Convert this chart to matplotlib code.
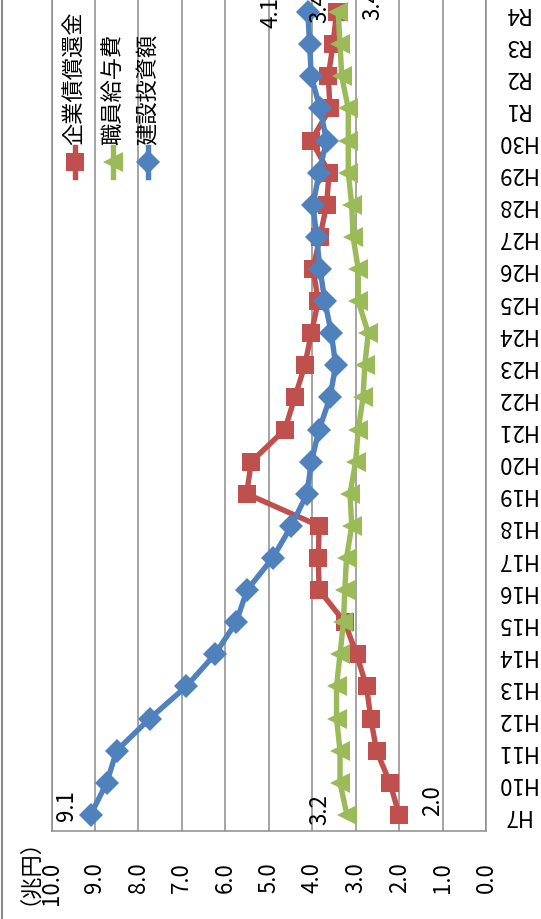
import numpy as np
import matplotlib
matplotlib.use("Agg")
import matplotlib.pyplot as plt
from matplotlib.lines import Line2D

plt.rcParams['font.family'] = ['Noto Sans CJK JP', 'DejaVu Sans']

# カテゴリ (年度)
cats = ['H7', 'H10', 'H11', 'H12', 'H13', 'H14', 'H15', 'H16', 'H17', 'H18',
        'H19', 'H20', 'H21', 'H22', 'H23', 'H24', 'H25', 'H26', 'H27', 'H28',
        'H29', 'H30', 'R1', 'R2', 'R3', 'R4']

# 企業債償還金
shokan = [2.0, 2.21, 2.52, 2.65, 2.75, 2.98, 3.25, 3.84, 3.86, 3.84,
          5.51, 5.40, 4.63, 4.40, 4.17, 4.02, 3.86, 3.98, 3.82, 3.67,
          3.61, 4.02, 3.59, 3.63, 3.52, 3.44]
# 職員給与費
kyuyo = [3.2, 3.36, 3.36, 3.44, 3.44, 3.36, 3.28, 3.25, 3.21, 3.09,
         3.13, 3.00, 2.94, 2.83, 2.79, 2.71, 2.94, 2.94, 3.06, 3.09,
         3.17, 3.17, 3.17, 3.32, 3.36, 3.40]
# 建設投資額
kensetsu = [9.1, 8.73, 8.50, 7.74, 6.90, 6.24, 5.75, 5.50, 4.91, 4.48,
            4.12, 4.02, 3.84, 3.59, 3.46, 3.56, 3.71, 3.82, 3.90, 3.98,
            3.84, 3.67, 3.82, 4.02, 4.06, 4.1]

names = ['企業債償還金', '職員給与費', '建設投資額']
value_ticks = list(range(0, 11))

red = '#C0504D'
green = '#9BBB59'
blue = '#4F81BD'
grid_col = '#8C8C8C'

W, H = 541, 920


def px(x, y):
    # 画像ピクセル -> figure座標
    return x / W, 1 - y / H


fig = plt.figure(figsize=(W / 100, H / 100), dpi=100)
x0, y0 = px(51.5, 832)
x1, y1 = px(486, -3)
ax = fig.add_axes([x0, y0, x1 - x0, y1 - y0])

pos = np.arange(len(cats))

# (値, 色, マーカー, サイズ, 最初ラベルのずれ, 最後ラベルのずれ)
series = [
    (shokan, red, 's', 13.5, (33, 15), (-17, -10)),
    (kyuyo, green, '<', 14.5, (-27, 6), (35, -7)),
    (kensetsu, blue, 'D', 12, (-24, 10), (-37, -15)),
]

for vals, color, marker, ms, off_first, off_last in series:
    ax.plot(vals, pos, color=color, lw=3.9, marker=marker, ms=ms,
            markeredgewidth=0, zorder=3)
    ax.annotate(f"{vals[0]:.1f}", (vals[0], pos[0]), xytext=off_first,
                textcoords='offset pixels', rotation=90, ha='center',
                va='center', fontsize=16, color='black', zorder=5)
    ax.annotate(f"{vals[-1]:.1f}", (vals[-1], pos[-1]), xytext=off_last,
                textcoords='offset pixels', rotation=90, ha='center',
                va='bottom', fontsize=16, color='black', zorder=5)

ax.set_xlim(10, 0)
ax.set_ylim(-0.5, len(cats) - 0.5)

# 値軸の目盛ラベル: 縦書き、末尾をそろえる
ax.set_xticks(value_ticks)
ax.set_xticklabels([])
ax.tick_params(axis='x', length=0)
for v in value_ticks:
    ax.annotate(f"{v:.1f}", (v, 0), xycoords=ax.get_xaxis_transform(),
                xytext=(0, -30), textcoords='offset pixels', rotation=90,
                ha='center', va='top', fontsize=16, annotation_clip=False)

ax.yaxis.tick_right()
ax.set_yticks(pos)
ax.set_yticklabels(cats)
ax.tick_params(axis='y', length=0, pad=21, labelsize=16)
for lab in ax.get_yticklabels():
    lab.set_rotation(180)
    lab.set_rotation_mode('default')
    lab.set_ha('center')
    lab.set_va('center')

ax.grid(axis='x', color=grid_col, lw=1.1, zorder=0)
ax.set_axisbelow(True)
ax.spines['top'].set_visible(False)
for s in ['left', 'right', 'bottom']:
    ax.spines[s].set_color(grid_col)
    ax.spines[s].set_linewidth(1.1)

# 凡例 (手描き)
leg_x = [75, 113, 148]
for (vals, color, marker, ms, _, _), name, lx in zip(series, names, leg_x):
    xa, ya = px(lx, 148)
    xb, yb = px(lx, 178)
    fig.add_artist(Line2D([xa, xb], [ya, yb], color=color, lw=3.9))
    xm, ym = px(lx, 163)
    fig.add_artist(Line2D([xm], [ym], color=color, marker=marker, ms=ms,
                          markeredgewidth=0))
    tx, ty = px(lx, 145)
    fig.text(tx, ty, name, rotation=90, ha='center', va='bottom', fontsize=16)

# 単位
ux, uy = px(18, 861)
fig.text(ux, uy, '（兆円）', rotation=90, ha='center', va='center', fontsize=16)

# 外枠 (左端)
fig.add_artist(Line2D([2 / W, 2 / W], [0, 1], color=grid_col, lw=1.5))

fig.savefig('out.png', dpi=100)
